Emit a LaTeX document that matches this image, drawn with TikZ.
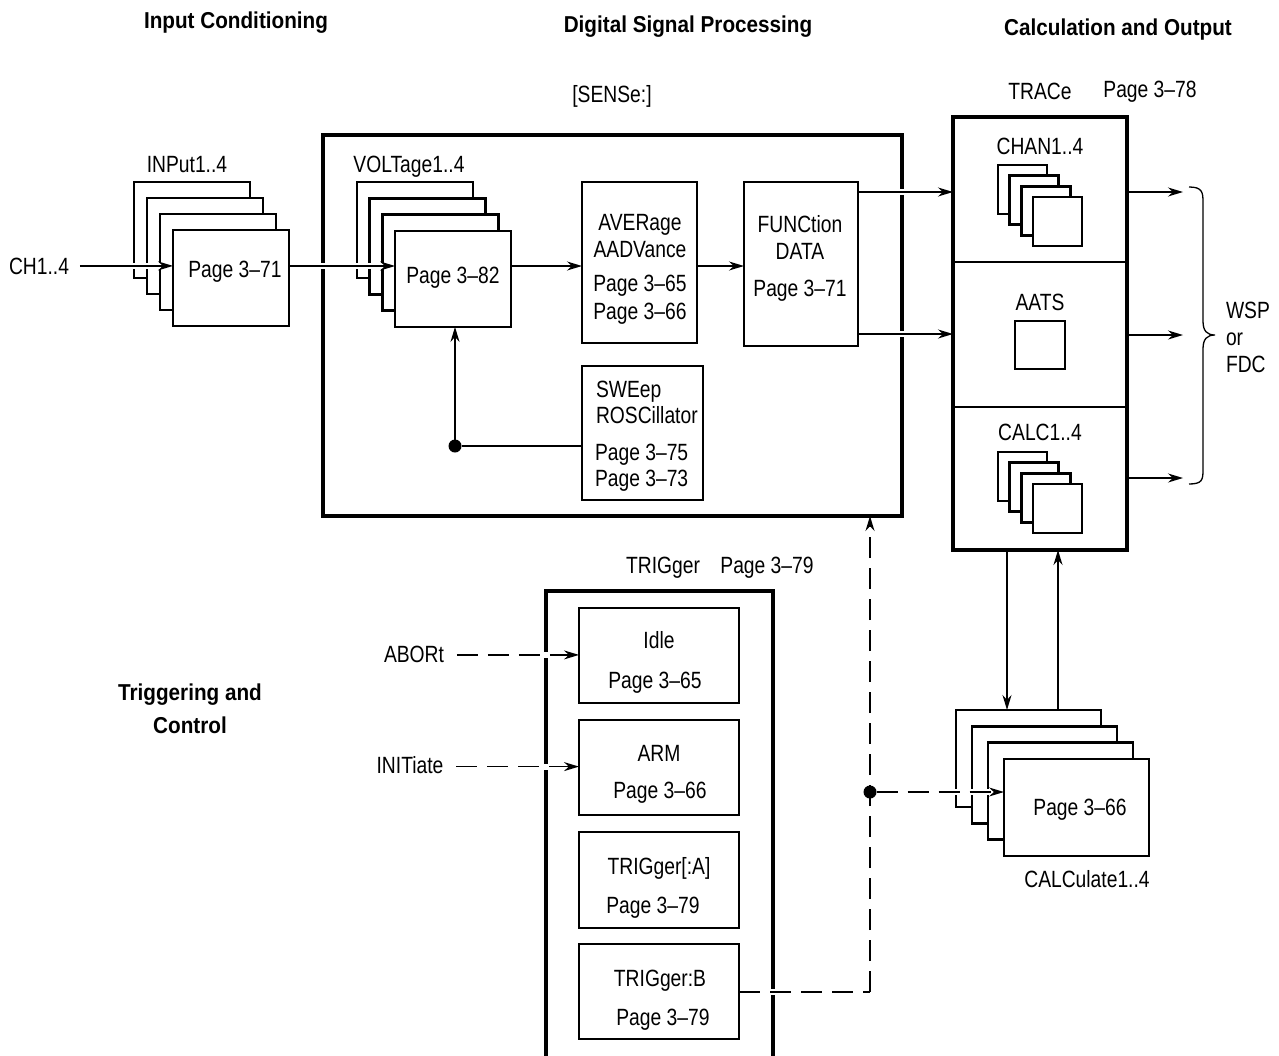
\documentclass[tikz,border=0pt]{standalone}
\usepackage{fontspec}
\setmainfont{Liberation Sans}[FakeStretch=0.82]
\newfontfamily\hfont{Liberation Sans}[FakeStretch=0.9]
\usetikzlibrary{arrows.meta,calc}
\begin{document}
\begin{tikzpicture}[x=1pt,y=-1pt,
  lbl/.style={font=\fontsize{23.5}{27}\selectfont, inner sep=0pt, outer sep=0pt, anchor=base},
  hd/.style={font=\hfont\bfseries\fontsize{23}{27}\selectfont, inner sep=0pt, outer sep=0pt, anchor=base},
  bx/.style={draw, line width=2.6pt, fill=white, inner sep=0pt, outer sep=0pt, anchor=north west},
  frm/.style={draw, line width=4.8pt, inner sep=0pt, outer sep=0pt, anchor=north west},
  ln/.style={line width=1.4pt},
  tip/.style={-{Stealth[length=15pt,width=9pt]}},
  wpre/.style={preaction={draw=white,line width=6pt,solid,-,shorten <=5pt,shorten >=5pt}},
  arr/.style={ln, tip, wpre},
  dsh/.style={ln, dash pattern=on 21pt off 10pt},
  dot/.style={circle, fill, inner sep=0pt, outer sep=0pt, minimum size=13pt}]
\useasboundingbox (0,0) rectangle (1279,1055);
\clip (0,0) rectangle (1279,1055);

% headings
\node[hd] (h1) at (236,28) {Input Conditioning};
\node[hd] (h2) at (688,32) {Digital Signal Processing};
\node[hd] (h3) at (1118,35) {Calculation and Output};
\node[hd] (h4a) at (190,700) {Triggering and};
\node[hd] (h4b) at (190,733) {Control};

% frames
\node[frm, minimum width=579, minimum height=381] (sense) at (323,135) {};
\node[frm, minimum width=174, minimum height=433] (trace) at (953,117) {};
\node[frm, minimum width=227, minimum height=500] (trig) at (546,591) {};
\coordinate (d1) at (0,262);
\coordinate (d2) at (0,407);
\draw[line width=2.6pt] (trace.west |- d1) -- (trace.east |- d1);
\draw[line width=2.6pt] (trace.west |- d2) -- (trace.east |- d2);

% frame labels
\node[lbl] (senselbl) at (612,102) {[SENSe:]};
\node[lbl] (tracelbl) at (1040,99) {TRACe};
\node[lbl] (tracepg) at (1150,97) {Page 3–78};
\node[lbl] (triglbl) at (663,573) {TRIGger};
\node[lbl] (trigpg) at (767,573) {Page 3–79};

% input stack
\node[lbl] (inlbl) at (187,172) {INPut1..4};
\foreach \i in {0,...,3}{
  \node[bx, minimum width=116, minimum height=96] (in\i) at ({134+13*\i},{182+16*\i}) {};
}
\node[lbl] (inpg) at (235,277) {Page 3–71};
\node[lbl] (ch) at (39,274) {CH1..4};

% voltage stack
\node[lbl] (vlbl) at (409,172) {VOLTage1..4};
\foreach \i in {0,...,3}{
  \node[bx, minimum width=116, minimum height=96] (v\i) at ({357+12.7*\i},{182+16.3*\i}) {};
}
\node[lbl] (vpg) at (453,283) {Page 3–82};

% average
\node[bx, minimum width=115, minimum height=161] (aver) at (582,182) {};
\node[lbl] at (640,230) {AVERage};
\node[lbl] at (640,257) {AADVance};
\node[lbl] at (640,291) {Page 3–65};
\node[lbl] at (640,319) {Page 3–66};

% function
\node[bx, minimum width=114, minimum height=164] (func) at (744,182) {};
\node[lbl] at (800,232) {FUNCtion};
\node[lbl] at (800,259) {DATA};
\node[lbl] at (800,296) {Page 3–71};

% sweep
\node[bx, minimum width=121, minimum height=134] (swe) at (582,366) {};
\node[lbl, anchor=base west] at (596,397) {SWEep};
\node[lbl, anchor=base west] at (596,423) {ROSCillator};
\node[lbl, anchor=base west] at (595,460) {Page 3–75};
\node[lbl, anchor=base west] at (595,486) {Page 3–73};

% trace contents
\node[lbl] (chanlbl) at (1040,154) {CHAN1..4};
\foreach \i in {0,...,3}{
  \node[bx, minimum width=49, minimum height=49] (chan\i) at ({998+11.7*\i},{165+10.7*\i}) {};
}
\node[lbl] (aatslbl) at (1040,310) {AATS};
\node[bx, minimum width=50, minimum height=48] (aats) at (1015,321) {};
\node[lbl] (calclbl) at (1040,440) {CALC1..4};
\foreach \i in {0,...,3}{
  \node[bx, minimum width=49, minimum height=49] (calc\i) at ({998+11.7*\i},{452+10.7*\i}) {};
}

% outputs
\coordinate (o1) at (1183,192);
\coordinate (o2) at (1183,335);
\coordinate (o3) at (1183,478);
\draw[arr] (trace.east |- o1) -- (o1);
\draw[arr] (trace.east |- o2) -- (o2);
\draw[arr] (trace.east |- o3) -- (o3);
\draw[line width=1.3pt] (1189,187) .. controls (1202,187) and (1203,192) .. (1203,202)
  -- (1203,321) .. controls (1203,331) and (1207,335) .. (1215,335)
  .. controls (1207,335) and (1203,339) .. (1203,349)
  -- (1203,470) .. controls (1203,480) and (1202,484) .. (1189,484);
\node[lbl, anchor=base west] (wsp) at (1226,318) {WSP};
\node[lbl, anchor=base west] (wor) at (1226,345) {or};
\node[lbl, anchor=base west] (fdc) at (1226,372) {FDC};

% calculate stack
\foreach \i in {0,...,3}{
  \node[bx, minimum width=145, minimum height=97] (cs\i) at ({956+16*\i},{710+16.3*\i}) {};
}
\node[lbl] (cspg) at (1080,815) {Page 3–66};
\node[lbl] (cslbl) at (1087,887) {CALCulate1..4};

% trigger boxes
\node[bx, minimum width=160, minimum height=95] (idle) at (579,608) {};
\node[bx, minimum width=160, minimum height=95] (arm) at (579,720) {};
\node[bx, minimum width=160, minimum height=96] (ta) at (579,832) {};
\node[bx, minimum width=160, minimum height=95] (tb) at (579,944) {};
\node[lbl] at (659,648) {Idle};
\node[lbl] at (655,688) {Page 3–65};
\node[lbl] at (659,761) {ARM};
\node[lbl] at (660,798) {Page 3–66};
\node[lbl] at (659,874) {TRIGger[:A]};
\node[lbl] at (653,913) {Page 3–79};
\node[lbl] at (660,986) {TRIGger:B};
\node[lbl] at (663,1025) {Page 3–79};
\node[lbl] (abort) at (414,662) {ABORt};
\node[lbl] (init) at (410,773) {INITiate};

% signal path
\coordinate (r1) at (0,266);
\coordinate (r2) at (0,192);
\coordinate (r3) at (0,334);
\coordinate (chs) at ($(ch.east)+(11,0)$);
\draw[arr] (chs) -- (chs -| in3.west);
\draw[arr] (in3.east |- r1) -- (v3.west |- r1);
\draw[arr] (v3.east |- r1) -- (aver.west |- r1);
\draw[arr] (aver.east |- r1) -- (func.west |- r1);
\draw[arr] (func.east |- r2) -- (trace.west |- r2);
\draw[arr] (func.east |- r3) -- (trace.west |- r3);

% sweep feedback
\node[dot] (j1) at (455,446) {};
\draw[ln] (j1) -- (j1 -| swe.west);
\draw[arr] (j1) -- (j1 |- v3.south);

% trace <-> calculate
\coordinate (xd) at (1007,0);
\coordinate (xu) at (1058,0);
\draw[arr] (trace.south -| xd) -- (cs0.north -| xd);
\draw[arr] (cs0.north -| xu) -- (trace.south -| xu);

% dashed control lines
\coordinate (ab) at ($(abort.east)+(13,1)$);
\coordinate (ini) at ($(init.east)+(13,2)$);
\draw[dsh, tip, wpre] (ab) -- (ab -| idle.west);
\draw[dsh, tip, wpre] (ini) -- (ini -| arm.west);
\coordinate (jb) at (870,992);
\node[dot] (j2) at (870,792) {};
\draw[dsh, wpre] (tb.east |- jb) -- (jb);
\draw[dsh, tip] (jb) -- (jb |- sense.south);
\draw[dsh, tip, wpre] (j2) -- (j2 -| cs3.west);
\end{tikzpicture}
\end{document}
